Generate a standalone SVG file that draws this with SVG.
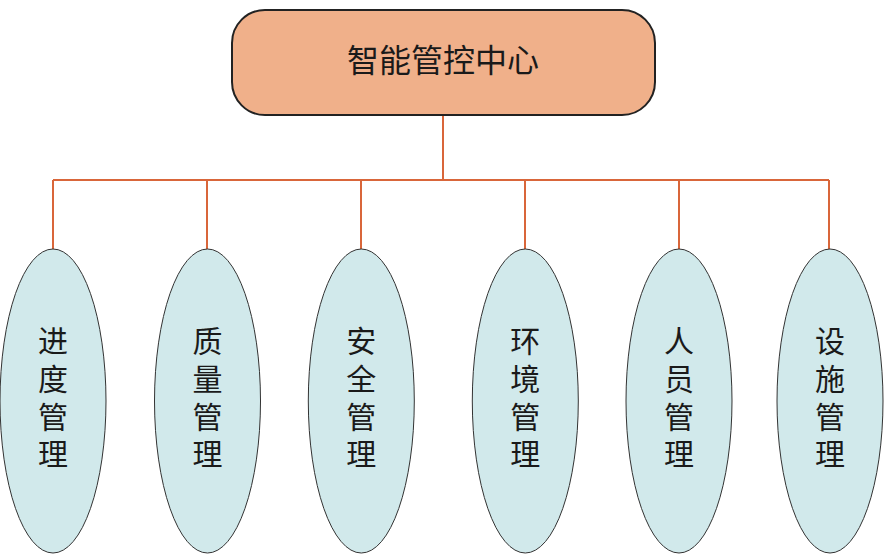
<svg xmlns="http://www.w3.org/2000/svg" width="894" height="560" viewBox="0 0 894 560">
<style>
.conn{stroke:#D9663A;stroke-width:2;fill:none}
.leaf{fill:#D1E9EB;stroke:#333;stroke-width:1}
.t{font-family:"Noto Sans CJK SC","Noto Sans CJK JP",sans-serif;fill:#1a1a1a}
.lt{font-size:30px;writing-mode:vertical-rl;letter-spacing:7.7px}
</style>
<rect width="894" height="560" fill="#fff"/>
<g id="connectors">
<path class="conn" d="M443 116V180M53 180H829M53 180V249M207 180V249M361 180V249M525 180V249M679 180V249M829 180V249"/>
</g>
<g id="root">
<rect x="232" y="10" width="423" height="105" rx="33" ry="33" fill="#F0B08A" stroke="#222" stroke-width="2"/>
<text class="t" x="443" y="72" font-size="32" text-anchor="middle">智能管控中心</text>
</g>
<g id="n1">
<ellipse class="leaf" cx="53" cy="401" rx="53" ry="152"/>
<text class="t lt" x="53" y="326">进度管理</text>
</g>
<g id="n2">
<ellipse class="leaf" cx="207.5" cy="401" rx="53" ry="152"/>
<text class="t lt" x="207.5" y="326">质量管理</text>
</g>
<g id="n3">
<ellipse class="leaf" cx="361.3" cy="401" rx="53" ry="152"/>
<text class="t lt" x="361.3" y="326">安全管理</text>
</g>
<g id="n4">
<ellipse class="leaf" cx="525.3" cy="401" rx="53" ry="152"/>
<text class="t lt" x="525.3" y="326">环境管理</text>
</g>
<g id="n5">
<ellipse class="leaf" cx="679" cy="401" rx="53" ry="152"/>
<text class="t lt" x="679" y="326">人员管理</text>
</g>
<g id="n6">
<ellipse class="leaf" cx="830" cy="401" rx="53" ry="152"/>
<text class="t lt" x="830" y="326">设施管理</text>
</g>
</svg>
